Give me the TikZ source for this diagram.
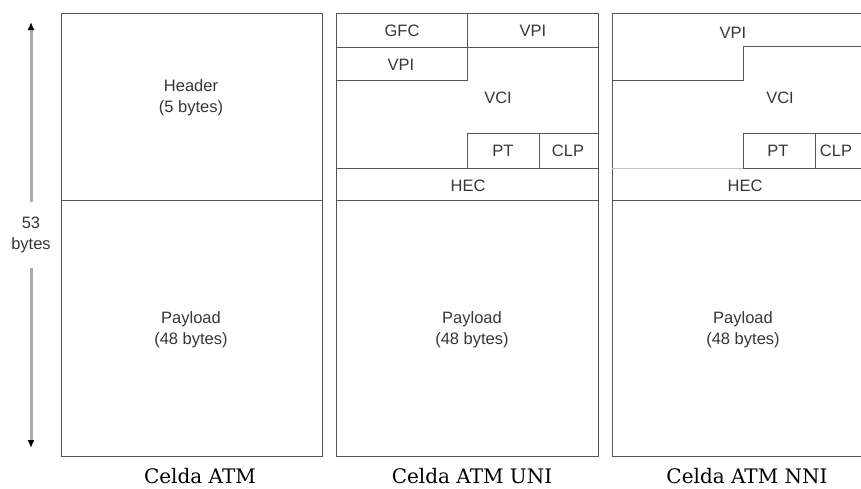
\documentclass[tikz,border=0pt]{standalone}
\usepackage{fontspec}
\setmainfont{Liberation Sans}
\newfontfamily\capfont{DejaVu Serif}
\usetikzlibrary{arrows.meta,positioning}
\definecolor{cellgray}{RGB}{85,85,85}
\definecolor{txtgray}{RGB}{55,55,55}
\definecolor{arrgray}{RGB}{170,170,170}

\begin{document}
\begin{tikzpicture}[x=1pt,y=-1pt,
  cell/.style={draw=cellgray,line width=0.9pt},
  faint/.style={draw=cellgray!35,line width=0.9pt},
  lbl/.style={text=txtgray,font=\fontsize{16.5}{21}\selectfont,align=center,inner sep=0pt},
  capt/.style={font=\capfont\fontsize{20}{24}\selectfont,inner sep=0pt},
  sizearr/.style={draw=arrgray,line width=3pt,-{Latex[color=black,fill=black,length=8pt,width=7pt]}}]
  \useasboundingbox (0,0) rectangle (861,488);
  \clip (0,0) rectangle (861,488);

  % 53 bytes
  \coordinate (top) at (31,22);
  \coordinate (bot) at (31,448);
  \node[lbl,inner ysep=15pt] (len) at (31,235) {53\\bytes};
  \draw[sizearr] (len.north) -- (top);
  \draw[sizearr] (len.south) -- (bot);

  % Celda ATM
  \draw[cell] (61,13) rectangle (322,456);
  \draw[cell] (61,200) -- (322,200);
  \node[lbl] (hdr) at (191,98) {Header\\(5 bytes)};
  \node[lbl] (pl1) at (191,330) {Payload\\(48 bytes)};
  \node[capt] (c1) at (200,476) {Celda ATM};

  % Celda ATM UNI
  \draw[cell] (336,13) rectangle (598,456);
  \draw[cell] (336,47) -- (598,47);
  \draw[cell] (467,13) -- (467,80) -- (336,80);
  \draw[cell] (467,168) -- (467,133) -- (598,133);
  \draw[cell] (539,133) -- (539,168);
  \draw[cell] (336,168) -- (598,168);
  \draw[cell] (336,200) -- (598,200);
  \node[lbl] (gfc) at (402,31) {GFC};
  \node[lbl] (vpi2a) at (533,31) {VPI};
  \node[lbl] (vpi2b) at (401,65) {VPI};
  \node[lbl] (vci2) at (498,98) {VCI};
  \node[lbl] (pt2) at (503,151) {PT};
  \node[lbl] (clp2) at (568,151) {CLP};
  \node[lbl] (hec2) at (468,186) {HEC};
  \node[lbl] (pl2) at (472,330) {Payload\\(48 bytes)};
  \node[capt] (c2) at (472,476) {Celda ATM UNI};

  % Celda ATM NNI
  \draw[cell] (612,13) rectangle (874,456);
  \draw[cell] (612,80) -- (743,80) -- (743,46) -- (874,46);
  \draw[cell] (743,168) -- (743,133) -- (874,133);
  \draw[cell] (815,133) -- (815,168);
  \draw[faint] (612,168) -- (743,168);
  \draw[cell] (743,168) -- (874,168);
  \draw[cell] (612,200) -- (874,200);
  \node[lbl] (vpi3) at (733,33) {VPI};
  \node[lbl] (vci3) at (780,98) {VCI};
  \node[lbl] (pt3) at (778,151) {PT};
  \node[lbl] (clp3) at (836,151) {CLP};
  \node[lbl] (hec3) at (745,186) {HEC};
  \node[lbl] (pl3) at (743,330) {Payload\\(48 bytes)};
  \node[capt] (c3) at (747,476) {Celda ATM NNI};
\end{tikzpicture}
\end{document}
